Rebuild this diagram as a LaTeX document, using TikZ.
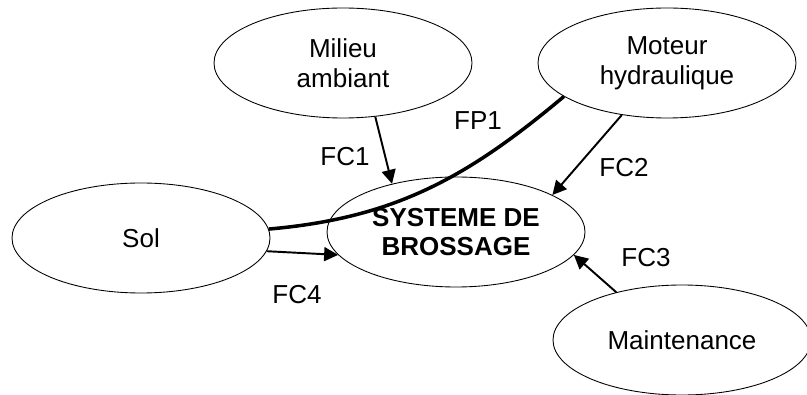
\documentclass[tikz,border=0pt]{standalone}
\usepackage{fontspec}
\setmainfont{Liberation Sans}
\usetikzlibrary{shapes.geometric,arrows.meta}
\tikzset{
	bulle/.style={ellipse, draw, line width=0.5pt, minimum width=5.16cm, minimum height=2.2cm, inner sep=0pt, align=center, font=\fontsize{14.8}{17}\selectfont},
	fleche/.style={-{Triangle[length=0.28cm,width=0.28cm]}, line width=1.1pt},
	etiq/.style={font=\fontsize{14.8}{17}\selectfont}
}
\begin{document}
\begin{tikzpicture}
			\useasboundingbox (0,0) rectangle (16.14,7.88);
			\node[bulle] (milieu) at (6.86,6.62) {Milieu\\ambiant};
			\node[bulle] (moteur) at (13.34,6.62) {Moteur\\hydraulique};
			\node[bulle] (sol) at (2.82,3.12) {Sol};
			\node[bulle, font=\fontsize{14.8}{17}\selectfont\bfseries] (sys) at (9.12,3.24) {SYSTEME DE\\BROSSAGE};
			\node[bulle] (maint) at (13.64,1.08) {Maintenance};
			% fonction principale
			\draw[line width=2pt] (sol.4) to[out=5,in=-140] (moteur.-162);
			% fonctions contraintes
			\draw[fleche] (milieu.-59) -- (sys.143);
			\draw[fleche] (moteur.-131) -- (sys.21);
			\draw[fleche] (maint.144) -- (sys.-11);
			\draw[fleche] (sol.-6) -- (sys.-169);
			\node[etiq] (fpun) at (9.56,5.46) {FP1};
			\node[etiq] (fcun) at (6.90,4.74) {FC1};
			\node[etiq] (fcdeux) at (12.48,4.52) {FC2};
			\node[etiq] (fctrois) at (12.92,2.72) {FC3};
			\node[etiq] (fcquatre) at (5.94,1.98) {FC4};
		\end{tikzpicture}
\end{document}
